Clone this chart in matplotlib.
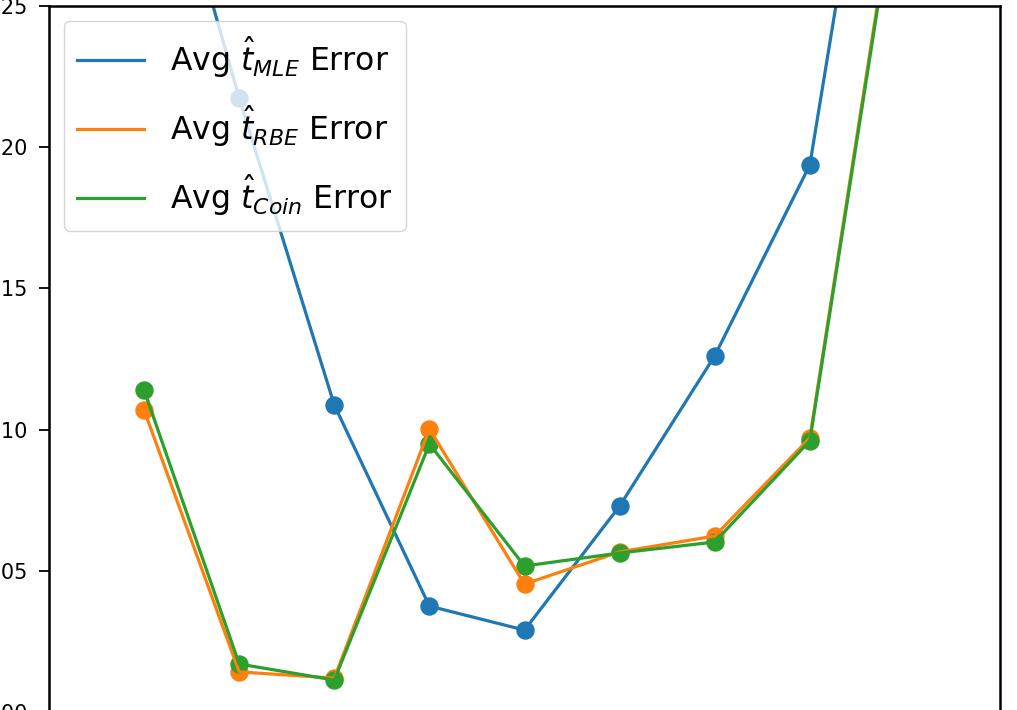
import numpy as np
import matplotlib
matplotlib.use('Agg')
import matplotlib.pyplot as plt

# x positions of the runs
x = [1, 2, 3, 4, 5, 6, 7, 8, 9]

# average errors
mle_err = [0.336, 0.2174, 0.1087, 0.0375, 0.0290, 0.0729, 0.1261, 0.1937, 0.399]
rbe_err = [0.1069, 0.0142, 0.0120, 0.1002, 0.0453, 0.0567, 0.0623, 0.0970, 0.313]
coin_err = [0.1140, 0.0170, 0.0113, 0.0949, 0.0517, 0.0563, 0.0602, 0.0960, 0.311]

labels = [r'Avg $\hat{t}_{MLE}$ Error', r'Avg $\hat{t}_{RBE}$ Error', r'Avg $\hat{t}_{Coin}$ Error']
colors = ['#1f77b4', '#ff7f0e', '#2ca02c']

fig = plt.figure(figsize=(10.17, 7.10), dpi=100)
ax = fig.add_axes([49 / 1017, -2 / 710, 951 / 1017, 706 / 710])

for ys, lab, c in zip([mle_err, rbe_err, coin_err], labels, colors):
    ax.plot(x, ys, color=c, lw=2.3, label=lab)
    ax.scatter(x, ys, color=c, s=150)

ax.set_xlim(0, 10)
ax.set_ylim(0, 0.25)
ax.set_yticks([0.0, 0.05, 0.10, 0.15, 0.20, 0.25])
ax.set_xticks([])
for s in ax.spines.values():
    s.set_linewidth(1.8)
ax.tick_params(axis='y', labelsize=15, length=7, width=1.3, pad=8)

ax.legend(loc='upper left', fontsize=22.7, borderpad=0.42, labelspacing=0.72,
          handlelength=2.1, handletextpad=0.83, borderaxespad=0.48)

fig.savefig('out.png', dpi=100)
